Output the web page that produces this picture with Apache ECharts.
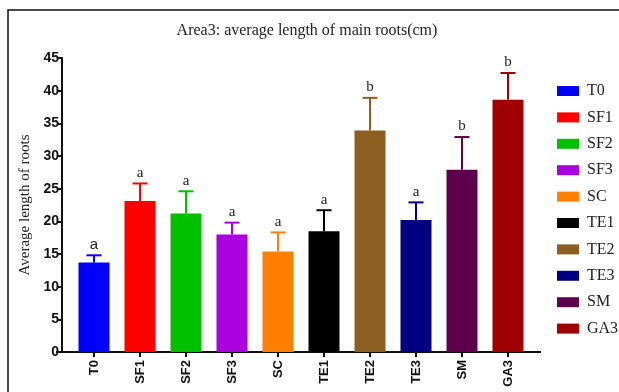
<!DOCTYPE html>
<html>
<head>
<meta charset="utf-8">
<script src="https://cdn.jsdelivr.net/npm/echarts@6/dist/echarts.min.js"></script>
<style>
  html, body { margin: 0; padding: 0; background: #fff; }
  #chart { width: 619px; height: 392px; }
</style>
</head>
<body>
<div id="chart"></div>
<script>
// 数据
const groups = ['T0', 'SF1', 'SF2', 'SF3', 'SC', 'TE1', 'TE2', 'TE3', 'SM', 'GA3']
const means = [13.7, 23.1, 21.2, 18.0, 15.4, 18.5, 33.9, 20.2, 27.9, 38.6]
const errTops = [14.8, 25.8, 24.6, 19.8, 18.3, 21.7, 38.9, 22.9, 32.9, 42.7]
const letters = ['a', 'a', 'a', 'a', 'a', 'a', 'b', 'a', 'b', 'b']
const colors = ['#0000ff', '#ff0000', '#00c000', '#aa00e0', '#ff8000', '#000000', '#8c5e20', '#000080', '#5e004c', '#a00000']
const yTicks = [0, 5, 10, 15, 20, 25, 30, 35, 40, 45]

const chart = echarts.init(document.getElementById('chart'))

const serif = '"Liberation Serif", "Times New Roman", serif'

// 每组一个 series，方便图例
const barSeries = groups.map((g, i) => ({
    name: g,
    type: 'bar',
    stack: 'all',
    data: groups.map((_, j) => (j === i ? means[i] : '-')),
    barWidth: 31,
    itemStyle: { color: colors[i] },
    z: 2
}))

// 误差线 + 显著性字母
const errSeries = {
    type: 'custom',
    name: 'err',
    data: groups.map((_, i) => [i, means[i], errTops[i]]),
    renderItem: function (params, api) {
        const i = api.value(0)
        const base = api.coord([i, api.value(1)])
        const top = api.coord([i, api.value(2)])
        const c = colors[i]
        const half = 7.5
        return {
            type: 'group',
            children: [
                { type: 'line', shape: { x1: base[0], y1: base[1], x2: top[0], y2: top[1] }, style: { stroke: c, lineWidth: 2 } },
                { type: 'line', shape: { x1: top[0] - half, y1: top[1], x2: top[0] + half, y2: top[1] }, style: { stroke: c, lineWidth: 2 } },
                {
                    type: 'text',
                    x: top[0], y: top[1] - 3,
                    style: {
                        text: letters[i],
                        fill: '#222',
                        font: (i === 0 ? '15px Arial' : '15px ' + serif),
                        align: 'center',
                        verticalAlign: 'bottom'
                    }
                }
            ]
        }
    },
    z: 3
}

const option = {
    animation: false,
    title: {
        text: 'Area3: average length of main roots(cm)',
        left: 302,
        top: 18,
        textAlign: 'center',
        textStyle: {
            fontFamily: serif,
            fontSize: 16,
            fontWeight: 'normal',
            color: '#222'
        }
    },
    legend: {
        data: groups,
        orient: 'vertical',
        left: 552,
        top: 78,
        itemWidth: 22,
        itemHeight: 10,
        itemGap: 10.4,
        icon: 'rect',
        textStyle: {
            fontFamily: serif,
            fontSize: 16,
            color: '#222',
            padding: [0, 0, 0, 3]
        }
    },
    grid: { left: 71, right: 88, top: 58, bottom: 40 },
    xAxis: {
        type: 'category',
        data: groups,
        axisLine: { lineStyle: { color: '#111', width: 2 } },
        axisTick: { show: true, alignWithLabel: true, length: 5, lineStyle: { width: 2, color: '#111' } },
        axisLabel: {
            rotate: 90,
            interval: 0,
            margin: 8,
            fontFamily: 'Arial, "Liberation Sans", sans-serif',
            fontWeight: 'bold',
            fontSize: 13,
            color: '#111'
        }
    },
    yAxis: {
        type: 'value',
        min: yTicks[0],
        max: yTicks[yTicks.length - 1],
        interval: 5,
        offset: 9,
        name: 'Average length of roots',
        nameLocation: 'middle',
        nameGap: 28,
        nameTextStyle: {
            fontFamily: serif,
            fontSize: 15,
            color: '#222'
        },
        axisLine: { show: true, lineStyle: { color: '#111', width: 2 } },
        axisTick: { show: true, length: 5, lineStyle: { width: 2, color: '#111' } },
        axisLabel: {
            margin: 3,
            fontFamily: 'Arial, "Liberation Sans", sans-serif',
            fontWeight: 'bold',
            fontSize: 14,
            color: '#111'
        },
        splitLine: { show: false }
    },
    graphic: [
        // 外框
        { type: 'rect', shape: { x: 8, y: 10, width: 640, height: 420 }, style: { fill: 'none', stroke: '#111', lineWidth: 1.5 }, z: 0 },
        // x 轴线两端延长
        { type: 'line', shape: { x1: 56, y1: 352, x2: 72, y2: 352 }, style: { stroke: '#111', lineWidth: 2 } },
        { type: 'line', shape: { x1: 530, y1: 352, x2: 541, y2: 352 }, style: { stroke: '#111', lineWidth: 2 } }
    ],
    series: [...barSeries, errSeries]
}

chart.setOption(option)
</script>
</body>
</html>
